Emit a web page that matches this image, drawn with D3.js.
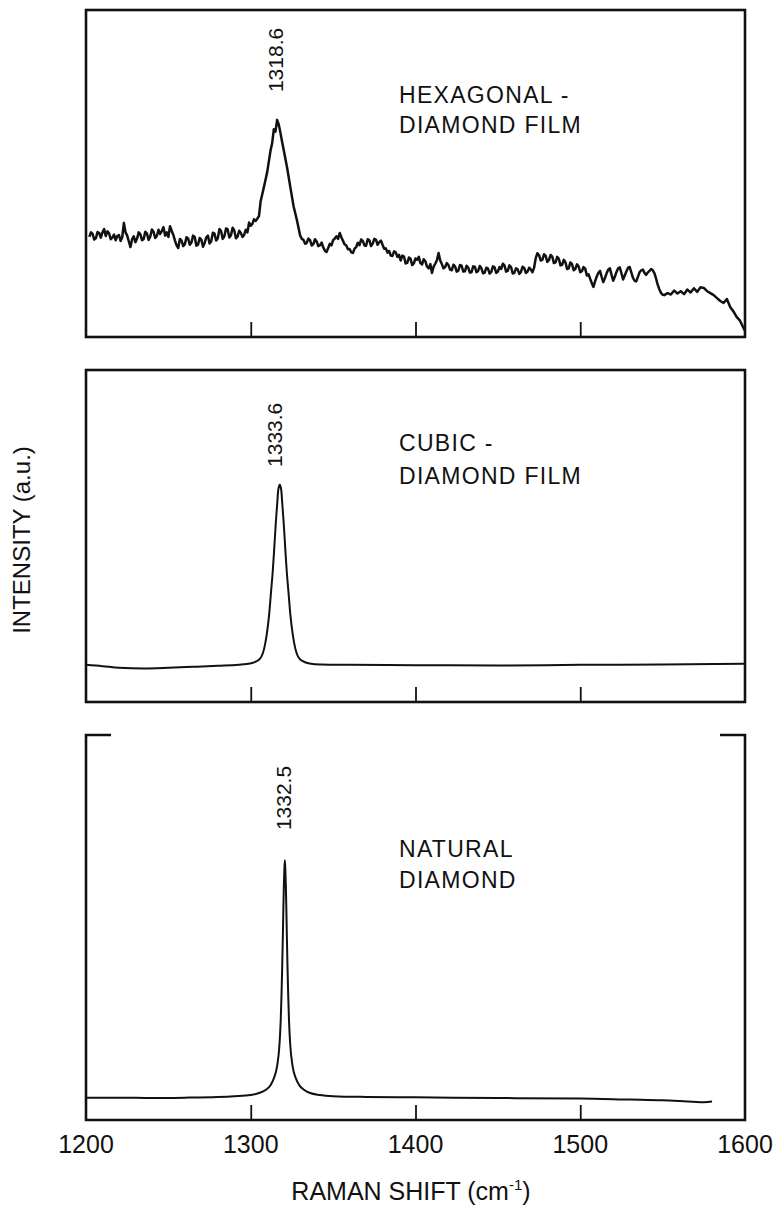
<!DOCTYPE html>
<html>
<head>
<meta charset="utf-8">
<script src="https://cdn.jsdelivr.net/npm/d3@7/dist/d3.min.js"></script>
<style>
  html, body { margin: 0; padding: 0; background: #fff; }
  svg { display: block; }
  text { font-family: "Liberation Sans", Arial, Helvetica, sans-serif; fill: #111; }
</style>
</head>
<body>
<svg id="chart" width="774" height="1208"></svg>
<script>
// ---------------- DATA ----------------
const xDomain = [1200, 1600];
const xTickValues = [1300, 1400, 1500];
const xTickLabels = [1200, 1300, 1400, 1500, 1600];
const peakLabels = ["1318.6", "1333.6", "1332.5"];
const peakLabelShift = [1315.2, 1314.2, 1319.7];
const peakLabelLevel = [74.9, 70.8, 75.3];
const sampleNames = [["HEXAGONAL -", "DIAMOND FILM"], ["CUBIC -", "DIAMOND FILM"], ["NATURAL", "DIAMOND"]];
const sampleNameShift = 1390;
const sampleNameLevel = [71.6, 75.6, 68.3];

// Hexagonal-diamond film spectrum [Raman shift cm-1, intensity a.u.]
const hexagonal = [
[1202,30.6],[1203,32.0],[1204,31.5],[1205,29.8],[1206,30.2],[1207,32.1],[1208,31.8],[1209,30.4],[1210,32.0],[1211,33.0],
[1212,30.9],[1213,32.3],[1214,31.7],[1215,29.9],[1216,30.4],[1217,31.3],[1218,29.6],[1219,30.9],[1220,31.2],[1221,29.4],
[1222,30.5],[1223,34.9],[1224,32.0],[1225,31.0],[1226,29.2],[1227,27.5],[1228,29.9],[1229,30.8],[1230,29.0],[1231,30.1],
[1232,32.0],[1233,31.4],[1234,29.6],[1235,30.0],[1236,32.2],[1237,31.6],[1238,29.7],[1239,30.7],[1240,32.9],[1241,32.2],
[1242,30.3],[1243,30.9],[1244,32.8],[1245,31.5],[1246,32.4],[1247,33.6],[1248,31.0],[1249,32.0],[1250,30.6],[1251,33.9],
[1252,32.5],[1253,31.2],[1254,29.5],[1255,28.0],[1256,27.2],[1257,30.0],[1258,29.5],[1259,27.8],[1260,28.4],[1261,30.5],
[1262,30.1],[1263,28.2],[1264,28.9],[1265,31.0],[1266,30.6],[1267,27.9],[1268,28.2],[1269,30.3],[1270,29.8],[1271,27.6],
[1272,28.7],[1273,30.5],[1274,31.0],[1275,28.6],[1276,29.3],[1277,31.9],[1278,31.6],[1279,29.5],[1280,30.2],[1281,33.0],
[1282,32.4],[1283,30.0],[1284,30.8],[1285,33.2],[1286,32.9],[1287,30.4],[1288,31.1],[1289,33.4],[1290,32.6],[1291,30.2],
[1292,30.7],[1293,32.5],[1294,31.8],[1295,30.6],[1296,31.2],[1297,32.8],[1298,32.0],[1299,35.0],[1300,34.0],[1301,34.6],
[1302,36.0],[1303,35.5],[1304,36.2],[1305,37.0],[1306,41.5],[1308,45.9],[1310,50.5],[1312,57.0],[1313,59.3],[1314,63.5],
[1315,62.8],[1316,66.4],[1317,65.0],[1318,62.5],[1319,59.8],[1320,57.2],[1322,52.0],[1324,45.9],[1326,40.0],[1328,35.8],
[1330,31.0],[1331,30.0],[1332,29.7],[1333,28.5],[1334,28.8],[1335,30.1],[1336,29.6],[1337,28.0],[1338,28.4],[1339,29.9],
[1340,29.2],[1341,27.8],[1342,28.0],[1343,28.9],[1344,27.4],[1345,26.4],[1346,26.0],[1347,27.2],[1348,28.5],[1349,28.0],
[1350,29.6],[1351,30.1],[1352,30.8],[1353,30.0],[1354,31.8],[1355,30.5],[1356,29.4],[1357,28.3],[1358,28.0],[1359,26.8],
[1360,26.9],[1361,25.9],[1362,25.7],[1363,27.0],[1364,27.5],[1365,28.8],[1366,28.1],[1367,29.8],[1368,29.4],[1369,28.0],
[1370,27.9],[1371,29.9],[1372,29.6],[1373,27.8],[1374,28.5],[1375,30.0],[1376,29.8],[1377,28.2],[1378,29.0],[1379,29.5],
[1380,28.2],[1381,27.0],[1382,27.1],[1383,25.8],[1384,26.3],[1385,24.9],[1386,24.8],[1387,26.2],[1388,25.9],[1389,24.5],
[1390,25.1],[1391,23.4],[1392,24.9],[1393,24.6],[1394,22.5],[1395,22.7],[1396,24.3],[1397,23.9],[1398,22.0],[1399,22.5],
[1400,24.0],[1401,23.6],[1402,24.5],[1403,22.6],[1404,22.2],[1405,23.8],[1406,23.1],[1407,21.5],[1408,21.0],[1409,22.3],
[1410,19.6],[1411,21.5],[1412,22.4],[1413,23.5],[1414,25.7],[1415,23.4],[1416,22.3],[1417,21.0],[1418,21.4],[1419,22.6],
[1420,22.0],[1421,20.6],[1422,20.4],[1423,22.1],[1424,21.6],[1425,20.0],[1426,20.3],[1427,22.0],[1428,21.8],[1429,20.0],
[1430,20.1],[1431,21.8],[1432,21.2],[1433,19.7],[1434,19.8],[1435,21.6],[1436,21.5],[1437,19.8],[1438,20.2],[1439,21.7],
[1440,21.0],[1441,19.5],[1442,19.7],[1443,21.2],[1444,20.9],[1445,19.4],[1446,19.9],[1447,21.6],[1448,21.3],[1449,19.6],
[1450,20.0],[1451,21.4],[1452,20.8],[1453,22.4],[1454,21.9],[1455,20.0],[1456,20.2],[1457,21.9],[1458,21.4],[1459,19.4],
[1460,19.6],[1461,21.0],[1462,20.7],[1463,19.3],[1464,19.9],[1465,21.5],[1466,21.1],[1467,19.6],[1468,20.0],[1469,21.2],
[1470,20.6],[1471,19.8],[1472,21.2],[1473,24.2],[1474,25.6],[1475,25.0],[1476,23.4],[1477,23.6],[1478,25.3],[1479,24.8],
[1480,23.0],[1481,23.5],[1482,25.1],[1483,24.6],[1484,22.6],[1485,22.8],[1486,24.5],[1487,23.9],[1488,21.9],[1489,22.1],
[1490,23.6],[1491,22.9],[1492,20.8],[1493,21.0],[1494,22.8],[1495,22.3],[1496,20.4],[1497,20.8],[1498,22.2],[1499,21.6],
[1500,19.8],[1501,20.1],[1502,21.4],[1503,20.9],[1504,18.8],[1505,19.2],[1506,17.8],[1507,16.5],[1508,15.3],[1509,17.0],
[1510,18.5],[1511,19.6],[1512,20.2],[1513,18.4],[1514,16.8],[1515,18.0],[1516,19.5],[1517,20.6],[1518,21.0],[1519,19.0],
[1520,17.2],[1521,18.4],[1522,19.9],[1523,21.0],[1524,21.3],[1525,19.5],[1526,17.6],[1527,18.8],[1528,20.0],[1529,21.2],
[1530,21.4],[1531,19.8],[1532,18.1],[1533,17.2],[1534,17.0],[1535,18.4],[1536,19.8],[1537,20.4],[1538,20.6],[1539,19.6],
[1540,19.0],[1541,19.7],[1542,20.2],[1543,20.8],[1544,20.4],[1545,19.5],[1546,17.9],[1547,16.0],[1548,14.6],[1549,13.5],
[1550,12.9],[1551,12.8],[1553,13.4],[1555,13.0],[1557,14.2],[1559,13.3],[1561,14.0],[1563,13.1],[1565,14.5],[1567,13.6],
[1569,14.9],[1571,13.8],[1573,15.2],[1575,15.0],[1577,14.0],[1579,13.4],[1581,12.8],[1583,11.9],[1585,11.0],[1587,10.4],
[1589,11.6],[1591,9.2],[1593,7.8],[1595,6.1],[1597,5.0],[1599,2.8],[1600,2.0]
];

// Cubic-diamond film spectrum
const cubic = [
[1200,11.2],[1210,10.8],[1220,10.3],[1235,10.1],[1250,10.3],[1265,10.6],[1280,10.9],[1292.6,11.2],[1299.6,11.6],
[1303.6,12.3],[1306.4,13.6],[1308.1,16.0],[1309.6,20.0],[1311.1,26.0],[1312.4,33.7],[1313.3,39.0],[1314.1,45.0],
[1315.2,53.9],[1316.1,60.0],[1316.7,63.9],[1317.6,65.4],[1318.5,63.9],[1319.1,60.0],[1320.0,53.9],[1321.1,45.0],
[1321.9,39.0],[1322.8,33.7],[1324.1,26.0],[1325.6,20.0],[1327.1,16.0],[1328.8,13.6],[1331.6,12.3],[1335.6,11.6],
[1342.6,11.3],[1360,11.2],[1400,11.1],[1450,11.0],[1500,11.2],[1550,11.3],[1600,11.5]
];

// Natural diamond spectrum
const natural = [
[1200,5.8],[1220,5.8],[1240,5.7],[1260,5.8],[1280,6.0],[1290,6.2],[1300,6.5],[1305,7.0],[1309,7.8],[1312,9.0],
[1314,10.8],[1316,14.0],[1317.5,20.0],[1318.2,26.0],[1318.7,33.0],[1319.1,40.0],[1319.5,48.0],[1319.8,55.0],
[1320.1,61.0],[1320.4,65.0],[1320.7,67.5],[1321.0,65.0],[1321.3,61.0],[1321.6,55.0],[1321.9,48.0],[1322.3,40.0],
[1322.7,33.0],[1323.2,26.0],[1323.9,20.0],[1325.4,14.0],[1327.4,10.8],[1329.5,9.0],[1332.5,7.8],[1336,7.0],
[1342,6.5],[1350,6.2],[1370,6.0],[1400,5.9],[1450,5.7],[1500,5.6],[1530,5.3],[1550,5.1],[1565,4.8],[1575,4.6],[1580,4.8]
];

const spectra = [hexagonal, cubic, natural];

// ---------------- LAYOUT ----------------
const svg = d3.select("#chart");
const x = d3.scaleLinear().domain(xDomain).range([86, 745]);
const panels = [
  { top: 10,  bottom: 337,  full: true,  width: 2.5, curve: d3.curveLinear,     nameGap: 30 },
  { top: 370, bottom: 702,  full: true,  width: 2.0, curve: d3.curveMonotoneX,  nameGap: 33 },
  { top: 735, bottom: 1120, full: false, width: 2.0, curve: d3.curveMonotoneX,  nameGap: 31 }
];
const frameW = 2.6;

panels.forEach((p, i) => {
  const y = d3.scaleLinear().domain([0, 100]).range([p.bottom, p.top]);
  const g = svg.append("g");
  const [x0, x1] = x.range();

  // frame
  if (p.full) {
    g.append("rect").attr("x", x0).attr("y", p.top).attr("width", x1 - x0).attr("height", p.bottom - p.top)
      .attr("fill", "none").attr("stroke", "#111").attr("stroke-width", frameW);
  } else {
    const bw = 25;
    g.append("path")
      .attr("d", `M${x0 + bw},${p.top}H${x0}V${p.bottom}H${x1}V${p.top}H${x1 - bw}`)
      .attr("fill", "none").attr("stroke", "#111").attr("stroke-width", frameW).attr("stroke-linejoin", "miter");
  }

  // ticks (inward from bottom)
  const axis = d3.axisBottom(x).tickValues(xTickValues).tickSizeInner(-15).tickSizeOuter(0).tickFormat("");
  const ax = g.append("g").attr("transform", `translate(0,${p.bottom})`).call(axis);
  ax.select(".domain").remove();
  ax.selectAll(".tick line").attr("stroke", "#111").attr("stroke-width", 1.8);

  // spectrum
  const line = d3.line().x(d => x(d[0])).y(d => y(d[1])).curve(p.curve);
  g.append("path").datum(spectra[i]).attr("d", line)
    .attr("fill", "none").attr("stroke", "#111").attr("stroke-width", p.width).attr("stroke-linejoin", "round");

  // peak label (rotated)
  const lx = x(peakLabelShift[i]), ly = y(peakLabelLevel[i]);
  g.append("text").attr("transform", `translate(${lx},${ly}) rotate(-90)`)
    .attr("dy", "0.36em").attr("text-anchor", "start")
    .style("font-size", "21px").text(peakLabels[i]);

  // sample name
  const t = g.append("text").attr("x", x(sampleNameShift)).attr("y", y(sampleNameLevel[i]))
    .style("font-size", "23px").style("letter-spacing", "1.3px");
  sampleNames[i].forEach((s, k) => {
    t.append("tspan").attr("x", x(sampleNameShift)).attr("dy", k === 0 ? 0 : p.nameGap).text(s);
  });

  // x tick labels on bottom panel
  if (i === panels.length - 1) {
    g.selectAll(".xl").data(xTickLabels).enter().append("text")
      .attr("x", d => x(d)).attr("y", p.bottom + 33).attr("text-anchor", "middle")
      .style("font-size", "25px").text(d => d);
  }
});

// axis titles
const xt = svg.append("text").attr("x", 411).attr("y", 1200).attr("text-anchor", "middle").style("font-size", "25px");
xt.append("tspan").text("RAMAN SHIFT (cm");
xt.append("tspan").attr("dy", -10).style("font-size", "15px").text("-1");
xt.append("tspan").attr("dy", 10).text(")");

svg.append("text").attr("transform", "translate(21,540) rotate(-90)").attr("dy", "0.36em")
  .attr("text-anchor", "middle").style("font-size", "24px").text("INTENSITY (a.u.)");
</script>
</body>
</html>
